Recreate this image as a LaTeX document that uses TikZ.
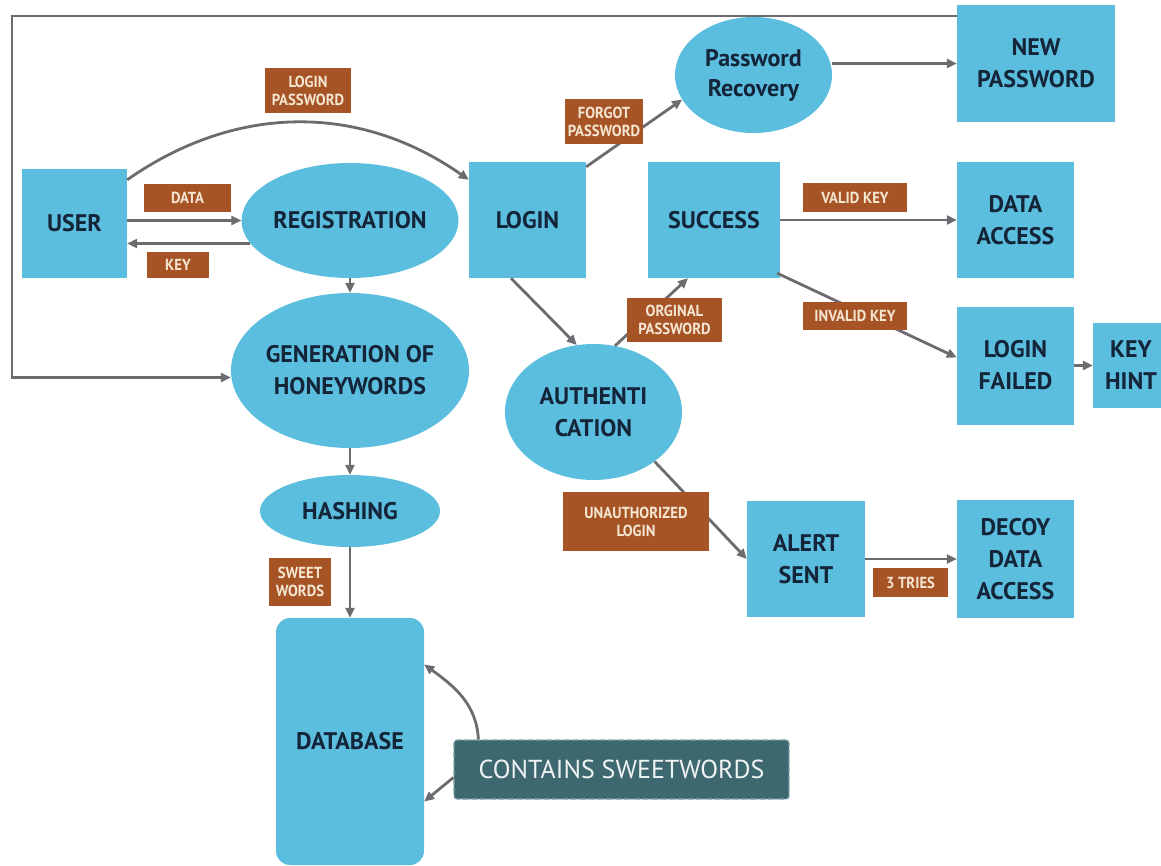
\documentclass[tikz,border=0pt]{standalone}
\usepackage{fontspec}
\setmainfont{PT Sans}
\newfontfamily\tagfont[FakeStretch=0.92]{PT Sans}
\usetikzlibrary{shapes.geometric,arrows.meta}
\definecolor{boxblue}{RGB}{91,190,222}
\definecolor{tagbrown}{RGB}{166,84,38}
\definecolor{tagtext}{RGB}{245,230,210}
\definecolor{linegray}{RGB}{108,108,112}
\definecolor{inknavy}{RGB}{20,37,58}
\definecolor{notefill}{RGB}{62,104,112}
\definecolor{noteedge}{RGB}{125,160,168}
\begin{document}
\begin{tikzpicture}
  [x=1pt,y=1pt,
   box/.style={rectangle,fill=boxblue,text=inknavy,align=center,inner sep=0pt,
     font=\bfseries\fontsize{24}{32}\selectfont},
   oval/.style={box,ellipse},
   tag/.style={rectangle,fill=tagbrown,text=tagtext,align=center,inner sep=0pt,
     font=\tagfont\bfseries\fontsize{16}{18}\selectfont},
   note/.style={rectangle,rounded corners=3pt,fill=notefill,draw=noteedge,line width=1.2pt,
     dash pattern=on 7pt off 2pt,text=white!92!notefill,inner sep=0pt,
     font=\fontsize{26}{30}\selectfont},
   flow/.style={draw=linegray,line width=2.8pt,-{Triangle[length=10pt,width=9pt]}}]
  \useasboundingbox (0,0) rectangle (1161,-865);
  % left column
  \node[box,minimum width=105,minimum height=109] (user) at (74.5,-223.5) {USER};
  \node[oval,minimum width=193,minimum height=115] (reg) at (350,-220.5) {REGISTRATION};
  \node[oval,minimum width=238,minimum height=155] (gen) at (350,-370.5) {GENERATION OF\\HONEYWORDS};
  \node[oval,minimum width=180,minimum height=72] (hash) at (350,-511) {HASHING};
  \node[box,rounded corners=14pt,minimum width=148,minimum height=247] (db) at (350,-741.5) {DATABASE};
  \node[note,minimum width=335,minimum height=59] (sweet) at (621.5,-769.5) {CONTAINS SWEETWORDS};
  % login branch
  \node[box,minimum width=117,minimum height=116] (login) at (527.5,-220) {LOGIN};
  \node[oval,minimum width=157,minimum height=116] (recov) at (753.5,-75) {Password\\[-2pt]Recovery};
  \node[box,minimum width=158,minimum height=117] (newpw) at (1036,-63.5) {NEW\\PASSWORD};
  \node[box,minimum width=132,minimum height=116] (succ) at (714,-220) {SUCCESS};
  \node[box,minimum width=117,minimum height=116] (dacc) at (1015.5,-220) {DATA\\ACCESS};
  \node[oval,minimum width=177,minimum height=136] (auth) at (593.5,-412) {AUTHENTI\\CATION};
  \node[box,minimum width=117,minimum height=118] (lfail) at (1015.5,-365.5) {LOGIN\\FAILED};
  \node[box,minimum width=76,minimum height=85] (hint) at (1131,-365.5) {KEY\\HINT};
  \node[box,minimum width=118,minimum height=116] (alert) at (806,-559) {ALERT\\SENT};
  \node[box,minimum width=117,minimum height=118] (decoy) at (1015.5,-559) {DECOY\\DATA\\ACCESS};
  \coordinate (fbcorner) at (12,-16);

  \foreach \from/\to in {reg.south/gen.north,gen.south/hash.north,hash.south/db.north,
      succ.east/dacc.west,lfail.east/hint.west,alert.east/decoy.west,auth.-39/alert.west}
    \draw[flow] (\from) -- (\to);
  \draw[flow] (user.east |- reg.west) -- (reg.west);
  \draw[flow] (reg.193) -- (user.east |- reg.193);
  \draw[flow] ([yshift=-11pt]user.north east) to[out=35,in=145] ([yshift=-18pt]login.north west);
  \draw[flow] ([yshift=-5pt]login.north east) -- (recov.199);
  \draw[flow] (recov.east |- newpw.west) -- (newpw.west);
  \draw[flow] ([xshift=-16.5pt]login.south) -- (auth.104);
  \draw[flow] (auth.72) -- ([xshift=-26pt]succ.south);
  \draw[flow] ([xshift=-3pt,yshift=5pt]succ.south east) -- ([yshift=8pt]lfail.west);
  \draw[flow] (newpw.west |- fbcorner) -- (fbcorner) |- ([yshift=-7pt]gen.west);
  \draw[flow] ([xshift=25pt]sweet.north west) to[out=93,in=-36] ([yshift=77pt]db.east);
  \draw[flow] ([yshift=-8pt]sweet.west) -- ([yshift=-60pt]db.east);

  % edge labels
  \node[tag,minimum width=86,minimum height=45] (tlogin) at (308,-90.5) {LOGIN\\PASSWORD};
  \node[tag,minimum width=87,minimum height=28] (tdata) at (187.5,-198) {DATA};
  \node[tag,minimum width=62,minimum height=26] (tkey) at (178,-265) {KEY};
  \node[tag,minimum width=62,minimum height=48] (tsweet) at (300,-582) {SWEET\\WORDS};
  \node[tag,minimum width=78,minimum height=45] (tforgot) at (604,-121.5) {FORGOT\\PASSWORD};
  \node[tag,minimum width=95,minimum height=44] (torig) at (674.5,-320) {ORGINAL\\PASSWORD};
  \node[tag,minimum width=104,minimum height=29] (tvalid) at (855,-197.5) {VALID KEY};
  \node[tag,minimum width=104,minimum height=28] (tinvalid) at (855,-316) {INVALID KEY};
  \node[tag,minimum width=146,minimum height=59] (tunauth) at (636,-521.5) {UNAUTHORIZED\\LOGIN};
  \node[tag,minimum width=75,minimum height=29] (ttries) at (910.5,-582.5) {3 TRIES};
\end{tikzpicture}
\end{document}
